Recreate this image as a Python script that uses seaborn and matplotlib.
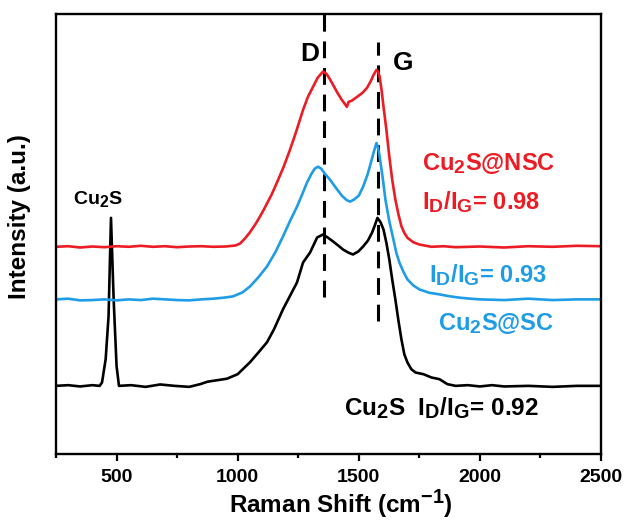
import numpy as np
import pandas as pd
import matplotlib
matplotlib.use("Agg")
import matplotlib.pyplot as plt
import matplotlib._mathtext as _mt
import seaborn as sns

# ---------------- data ----------------
x_black = [250, 300, 350, 400, 430, 440, 455, 467, 477, 488, 500, 510, 560, 620, 680,
           740, 800, 845, 876, 930, 956, 1000, 1051, 1090, 1121, 1150, 1187, 1215, 1245, 1270,
           1299, 1328, 1352, 1372, 1394, 1415, 1435, 1456, 1476, 1498, 1518, 1538, 1555, 1566, 1577,
           1590, 1602, 1614, 1626, 1638, 1651, 1664, 1676, 1688, 1701, 1717, 1734, 1767, 1800, 1833,
           1866, 1900, 1950, 2000, 2050, 2100, 2200, 2300, 2400, 2500]
y_black = [68.3, 69.0, 67.7, 69.0, 68.3, 71.7, 95.0, 138.3, 236.7, 155.0, 88.3, 68.3, 69.0, 67.3, 69.7,
           68.3, 67.3, 70.0, 72.5, 74.5, 75.5, 80.0, 92.0, 103.0, 112.0, 125.0, 145.0, 158.0, 172.0, 192.0,
           202.0, 217.0, 220.0, 217.0, 213.0, 209.0, 205.0, 202.0, 200.0, 203.0, 208.0, 214.0, 222.0, 229.0, 236.7,
           232.3, 225.0, 211.7, 195.0, 175.0, 155.0, 133.3, 115.0, 100.0, 91.7, 85.0, 81.7, 80.0, 76.7, 75.0,
           70.0, 68.3, 69.0, 67.7, 69.0, 67.7, 68.3, 67.3, 68.3, 68.3]

x_blue = [250, 300, 350, 400, 450, 500, 550, 600, 650, 700, 750, 800, 850, 900,
          943, 981, 1020, 1051, 1085, 1121, 1155, 1187, 1215, 1245, 1266, 1286, 1305, 1318, 1332,
          1345, 1360, 1381, 1405, 1430, 1450, 1464, 1480, 1500, 1518, 1536, 1550, 1561, 1573, 1580,
          1586, 1598, 1610, 1626, 1643, 1655, 1668, 1685, 1701, 1725, 1750, 1790, 1833, 1870, 1916,
          1960, 2000, 2100, 2200, 2300, 2400, 2500]
y_blue = [155.0, 155.7, 154.0, 154.3, 155.0, 154.0, 155.0, 154.3, 155.7, 155.0, 154.3, 154.0, 155.0, 155.7,
          156.7, 158.0, 162.0, 168.0, 177.0, 188.0, 202.0, 218.0, 233.0, 248.0, 260.0, 272.0, 281.0, 286.0, 288.0,
          286.0, 281.0, 275.0, 267.0, 259.0, 254.5, 253.0, 255.0, 259.0, 268.0, 280.0, 292.0, 302.0, 311.7, 306.7,
          298.3, 278.3, 255.0, 233.3, 215.0, 201.7, 191.7, 182.3, 175.0, 169.0, 165.0, 161.7, 160.0, 158.3, 156.7,
          155.7, 155.0, 154.3, 155.7, 154.3, 155.0, 155.0]

x_red = [250, 300, 350, 400, 450, 500, 550, 600, 650, 700, 750, 800, 850, 900, 950,
         991, 1010, 1030, 1050, 1075, 1092, 1108, 1140, 1162, 1190, 1216, 1240, 1270, 1290, 1311,
         1330, 1352, 1367, 1380, 1394, 1412, 1430, 1445, 1451, 1458, 1470, 1493, 1515, 1534, 1550,
         1561, 1573, 1580, 1586, 1594, 1602, 1614, 1626, 1638, 1651, 1664, 1676, 1688, 1701, 1725,
         1750, 1800, 1850, 1900, 2000, 2100, 2200, 2300, 2400, 2500]
y_red = [207.7, 208.3, 207.0, 208.0, 207.3, 208.3, 207.7, 208.7, 207.7, 208.3, 207.3, 208.0, 208.3, 207.7, 208.0,
         209.0, 211.0, 216.0, 222.0, 231.0, 238.0, 245.0, 260.0, 272.0, 288.0, 305.0, 322.0, 345.0, 358.0, 368.0,
         377.0, 383.3, 381.0, 376.0, 370.0, 362.0, 355.0, 350.0, 348.0, 353.0, 354.0, 358.0, 362.0, 367.0, 374.0,
         380.0, 385.0, 383.3, 378.3, 365.0, 348.3, 325.0, 298.3, 275.0, 255.0, 240.0, 228.3, 221.7, 216.7, 212.3,
         210.0, 207.7, 208.3, 207.3, 208.0, 207.0, 208.3, 207.7, 208.7, 208.3]

peak_pos = [1355, 1580]          # D and G band positions
peak_names = ["D", "G"]
peak_line_lo = [157, 133]
peak_line_hi = [441, 413]

xticks_major = [500, 1000, 1500, 2000, 2500]
xticks_minor = [250, 750, 1250, 1750, 2250]

RED = "#ec1c24"
BLUE = "#1f9ce6"
BLACK = "#000000"

# ---------------- style ----------------
sns.set_style("ticks")
plt.rcParams["font.family"] = ["Liberation Sans", "DejaVu Sans"]
plt.rcParams["font.weight"] = "bold"
plt.rcParams["text.color"] = "black"
plt.rcParams["axes.labelcolor"] = "black"
plt.rcParams["xtick.color"] = "black"
plt.rcParams["mathtext.fontset"] = "custom"
plt.rcParams["mathtext.rm"] = "Liberation Sans:bold"
plt.rcParams["mathtext.it"] = "Liberation Sans:bold"
plt.rcParams["mathtext.bf"] = "Liberation Sans:bold"
plt.rcParams["mathtext.default"] = "rm"
_mt.SHRINK_FACTOR = 0.82   # larger subscripts, like the reference

fig = plt.figure(figsize=(6.25, 5.21), dpi=100)
ax = fig.add_axes([0.0896, 0.1286, 0.872, 0.8444])

df_k = pd.DataFrame({"x": x_black, "y": y_black})
df_b = pd.DataFrame({"x": x_blue, "y": y_blue})
df_r = pd.DataFrame({"x": x_red, "y": y_red})

sns.lineplot(data=df_k, x="x", y="y", color=BLACK, lw=1.9, ax=ax, estimator=None, sort=False)
sns.lineplot(data=df_b, x="x", y="y", color=BLUE, lw=1.9, ax=ax, estimator=None, sort=False)
sns.lineplot(data=df_r, x="x", y="y", color=RED, lw=1.9, ax=ax, estimator=None, sort=False)

for p, lo, hi in zip(peak_pos, peak_line_lo, peak_line_hi):
    ax.plot([p, p], [lo, hi], color="black", lw=2.2, dashes=(5.5, 3.2), zorder=1)

ax.set_xlim(250, 2500)
ax.set_ylim(0, 441)
ax.set_yticks([])
ax.set_xticks(xticks_major)
ax.set_xticks(xticks_minor, minor=True)
ax.set_xticklabels([str(t) for t in xticks_major], fontsize=14, fontweight="bold")
ax.tick_params(axis="x", which="major", direction="out", length=5, width=1.6, pad=6)
ax.tick_params(axis="x", which="minor", direction="out", length=3, width=1.6)
for s in ax.spines.values():
    s.set_linewidth(1.7)
    s.set_color("black")

ax.set_xlabel("Raman Shift (cm$^{-1}$)", fontsize=17.5, fontweight="bold")
ax.xaxis.set_label_coords(0.522, -0.077)
ax.set_ylabel("Intensity (a.u.)", fontsize=17.5, fontweight="bold")
ax.yaxis.set_label_coords(-0.045, 0.54)

# annotations
ax.text(1335, 401, peak_names[0], fontsize=19, fontweight="bold", ha="right", va="center")
ax.text(1640, 392, peak_names[1], fontsize=19, fontweight="bold", ha="left", va="center")
ax.text(1760, 291, "Cu$_2$S@NSC", fontsize=17, color=RED, ha="left", va="center")
ax.text(1760, 253, "I$_D$/I$_G$= 0.98", fontsize=17, color=RED, ha="left", va="center")
ax.text(1788, 179, "I$_D$/I$_G$= 0.93", fontsize=17, color=BLUE, ha="left", va="center")
ax.text(1825, 131, "Cu$_2$S@SC", fontsize=17, color=BLUE, ha="left", va="center")
ax.text(1440, 46, "Cu$_2$S  I$_D$/I$_G$= 0.92", fontsize=17.5, color=BLACK, ha="left", va="center")
ax.text(320, 256, "Cu$_2$S", fontsize=14, color=BLACK, ha="left", va="center")

fig.savefig("out.png", dpi=100)
